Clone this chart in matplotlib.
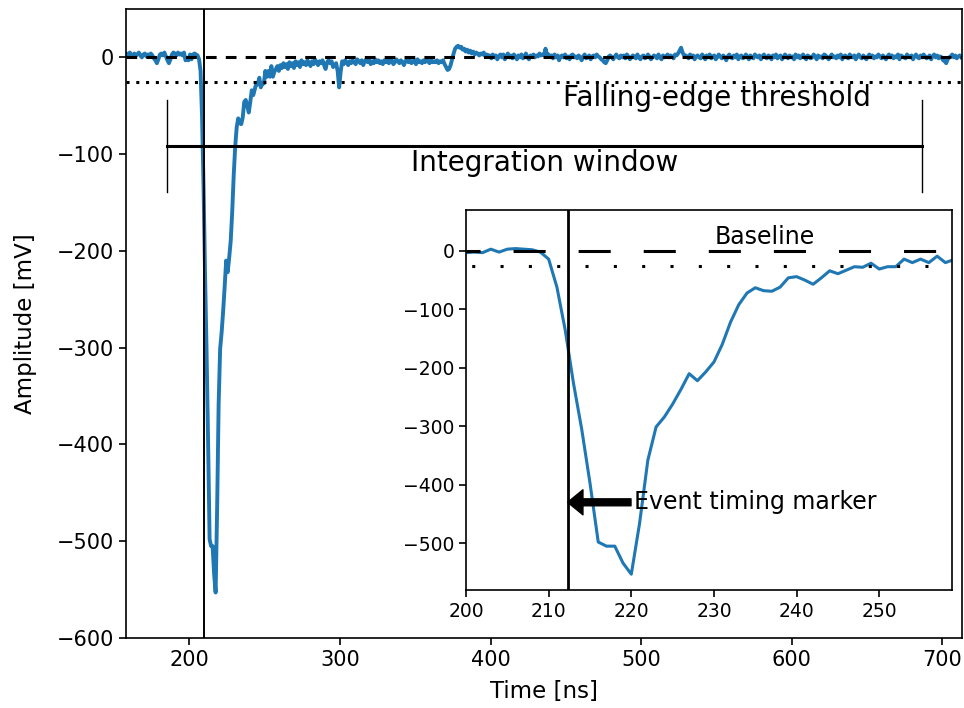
import numpy as np
import matplotlib
matplotlib.use("Agg")
import matplotlib.pyplot as plt

# waveform samples, one per ns starting at t = 158 ns
t_start = 158

pre_pulse = [
    2, 3, 1, 4, 2, 5, 3, 1, 4, 2,
    3, 5, 2, 0, 3, 4, 1, 3, 2, 4,
    2, -1, -3, -6, -2, 3, 4, 2, 5, 1,
    -3, -6, -2, 3, 5, 4, 2, 5, 3, 4,
    2, 5,
]

pulse = [
    -3, -2, -3, 3, -2, 3, 4, 3, 2, -2,
    -14, -62, -135, -226, -305, -397, -498, -505, -505, -534,
    -553, -466, -358, -301, -284, -262, -237, -210, -222, -207,
    -190, -160, -122, -92, -72, -63, -68, -69, -62, -46,
    -44, -50, -57, -46, -34, -39, -33, -27, -28, -21,
    -31, -27, -27, -14, -20, -14, -20, -9, -20, -15,
]

tail = [
    -12, -9, -14, -8, -11, -6, -10, -7, -12, -5,
    -9, -6, -11, -4, -8, -5, -10, -3, -7, -5,
    -8, -3, -6, -9, -4, -7, -2, -5, -8, -4,
    -6, -3, -8, -12, -5, -3, -6, -4, -10, -8,
    -6, -14, -31, -15, -4, -7, -3, -5, -8, -4,
    -6, -3, -5, -7, -2, -4, -6, -3, -8, -4,
    -2, -5, -3, -7, -4, -6, -2, -5, -3, -6,
    -4, -7, -3, -5, -2, -6, -4, -3, -7, -5,
    -2, -4, -6, -3, -5, -8, -4, -2, -5, -3,
    -6, -4, -3, -7, -2, -5, -4, -6, -3, -5,
    -2, -4, -6, -3, -5, -4, -5, -3, -6, -4,
    -5, -3, -7, -10, -13, -12, -8, -2, 4, 9,
    11, 12, 10, 11, 8, 9, 6, 8, 5, 7,
    4, 6, 3, 5, 4, 2, 4, 3, 5, 1,
    3, 2, 2, -1, 3, 0, 2, -2, 1, 3,
    0, 3, -2, 1, 4, 0, 2, -1, 3, 1,
    -2, 2, 0, 3, -1, 1, 4, 0, -2, 2,
    1, 3, 0, 2, 1, 4, 2, 3, 2, 9,
    3, 3, 1, 2, -1, 3, 0, 2, -3, 1,
    2, 0, 3, -1, 1, -2, 2, 3, 0, 1,
    -1, 2, 0, -3, 1, 3, -1, 0, 2, -2,
    1, 2, 0, 3, 1, 0, -2, -3, -5, -6,
    -3, 1, 2, 0, -2, 1, 3, 0, -1, 2,
    0, 2, -1, 3, 1, -2, 0, 2, 1, -1,
    3, 0, -2, 1, 2, -1, 0, 3, 1, -2,
    0, 2, 1, -1, 3, 0, -2, 2, 0, 1,
    3, 0, 2, 1, -1, 3, 2, 4, 7, 10,
    5, 2, 2, 1, -1, 3, 0, 2, -2, 1,
    2, 0, -1, 3, 1, -2, 2, 0, 3, -1,
    1, 2, -2, 0, 3, 1, -1, 2, 0, -3,
    1, 3, 0, -1, 2, 0, 3, -2, 1, 2,
    -1, 0, 3, 1, -2, 2, 0, -1, 3, 1,
    0, 2, -2, 1, 3, 0, -1, 2, 1, -2,
    2, 0, 3, -1, 1, 2, -2, 0, 3, 1,
    -1, 2, 0, 1, -2, 3, 0, 2, -1, 1,
    3, 0, -2, 2, 1, -1, 0, 3, 1, -2,
    2, 0, 1, -1, 3, 2, 0, -2, 1, 3,
    0, 1, -1, 2, 0, 3, -2, 1, 2, 0,
    -1, 3, 1, 0, 2, -2, 1, 3, 0, -1,
    2, 0, -2, 1, 3, 0, 2, -1, 1, 0,
    3, 1, -1, 2, 0, -2, 1, 3, 0, 2,
    -1, 1, 0, 3, -2, 2, 1, 0, -1, 3,
    1, 0, 2, -2, 1, 3, 0, -1, 2, 0,
    3, 1, -1, 0, 2, -2, 1, 3, 0, 2,
    -1, 1, 0, -3, -4, -6, -2, 0, 1, 3,
    0, 2, -1, 1, 2, 0,
]

amplitude = np.array(pre_pulse + pulse + tail, dtype=float)
time = t_start + np.arange(len(amplitude))

# overview trace is drawn with a small time offset
main_shift = -2.5

baseline = 0
threshold = -25
event_time = 212.3
window = [185.4, 686.6]
window_level = -92

blue = "#1f77b4"

fig = plt.figure(figsize=(9.64, 7.08), dpi=100)
ax = fig.add_axes([126 / 964, 1 - 638 / 708, 836 / 964, 629 / 708])

ax.plot(time + main_shift, amplitude, color=blue, lw=2.8)
ax.axhline(baseline, color="black", lw=2.2, dashes=(3.5, 3.0))
ax.axhline(threshold, color="black", lw=2.2, dashes=(1, 2.2))
ax.axvline(event_time + main_shift, color="black", lw=1.4)

# integration window bar with end markers
ax.plot(window, [window_level, window_level], color="black", lw=2.2)
for x in window:
    ax.plot([x, x], [-44, -139], color="black", lw=1)

ax.text(550, -42, "Falling-edge threshold", fontsize=20, ha="center", va="center")
ax.text(436, -109, "Integration window", fontsize=20, ha="center", va="center")

ax.set_xlim(158, 713)
ax.set_ylim(-600, 50)
ax.set_xlabel("Time [ns]", fontsize=16.5, labelpad=7)
ax.set_ylabel("Amplitude [mV]", fontsize=16.5, labelpad=14)
ax.tick_params(labelsize=15, width=1.2, length=5)
for s in ax.spines.values():
    s.set_linewidth(1.2)

# zoomed inset
ins = fig.add_axes([466 / 964, 1 - 590 / 708, 486 / 964, 380 / 708])
ins.plot(time, amplitude, color=blue, lw=2.2)
ins.axhline(baseline, color="black", lw=2.2, ls=(5.9, (10.5, 10.8)))
ins.axhline(threshold, color="black", lw=2.2, ls=(7.4, (1, 8.27)))
ins.axvline(event_time, color="black", lw=2)
ins.text(236.2, 24, "Baseline", fontsize=17, ha="center", va="center")
ins.annotate("Event timing marker", xy=(event_time, -430), xytext=(220.3, -430),
             fontsize=17, va="center", ha="left",
             arrowprops=dict(facecolor="black", edgecolor="black",
                             width=5, headwidth=18, headlength=11))
ins.set_xlim(200, 258.8)
ins.set_ylim(-580, 70)
ins.tick_params(labelsize=13.5, width=1.2, length=5)
for s in ins.spines.values():
    s.set_linewidth(1.2)

fig.savefig("out.png", dpi=100)
